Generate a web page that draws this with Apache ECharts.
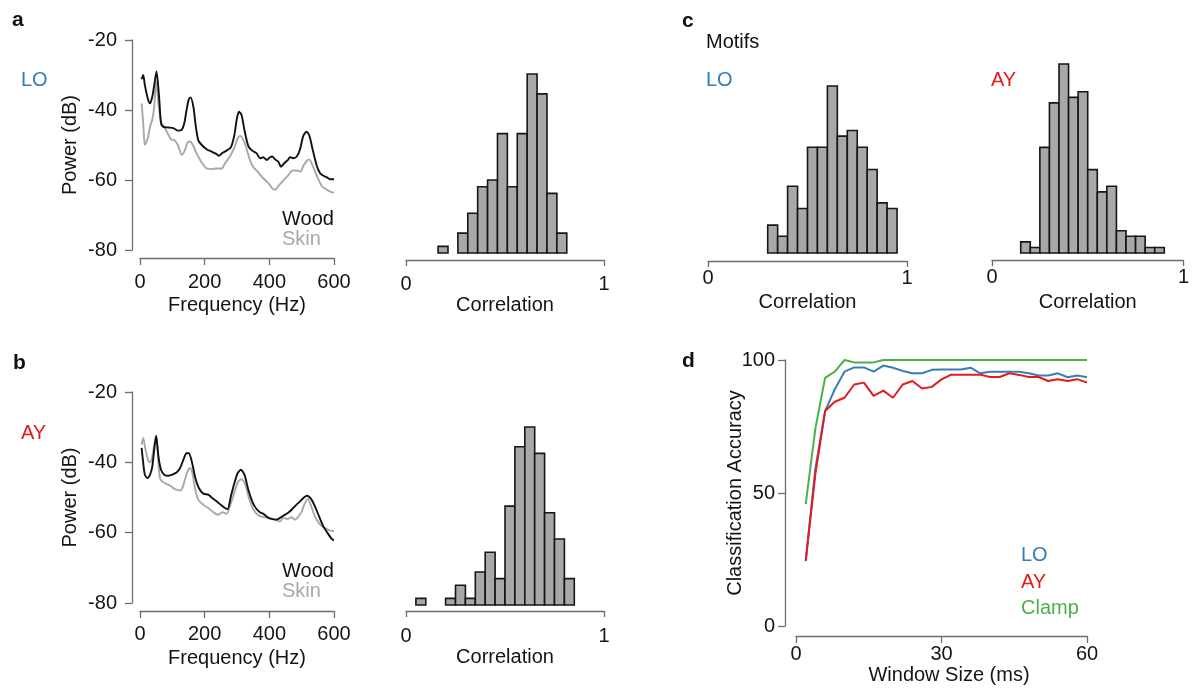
<!DOCTYPE html>
<html>
<head>
<meta charset="utf-8">
<script src="https://cdn.jsdelivr.net/npm/echarts@6/dist/echarts.min.js"></script>
<style>
  html, body { margin: 0; padding: 0; background: #ffffff; }
  #chart { width: 1192px; height: 689px; }
</style>
</head>
<body>
<div id="chart"></div>
<script>
// ---- Power spectra: [frequency (Hz), power (dB)] ----
const woodLO = [[5,-31.2],[10,-30.0],[15,-32.9],[24,-36.7],[31,-38.1],[38,-36.2],[44,-32.9],[51,-29.0],[59,-36.2],[65,-43.8],[72,-44.8],[88,-45.0],[103,-45.2],[118,-45.9],[129,-45.7],[137,-43.8],[144,-40.0],[151,-36.9],[156,-36.4],[165,-39.0],[172,-44.3],[180,-48.6],[191,-50.0],[206,-51.2],[222,-51.9],[237,-52.6],[244,-53.1],[253,-52.4],[268,-51.6],[281,-50.7],[292,-47.1],[299,-42.8],[306,-40.5],[314,-41.4],[323,-45.7],[335,-50.3],[347,-51.6],[361,-52.4],[371,-53.8],[381,-53.5],[392,-54.3],[402,-53.5],[409,-53.3],[418,-54.1],[428,-54.8],[436,-56.2],[446,-55.2],[457,-54.3],[464,-53.5],[474,-53.8],[485,-53.3],[495,-51.2],[505,-47.4],[515,-46.2],[524,-47.4],[533,-50.9],[546,-55.7],[557,-58.1],[567,-58.8],[577,-59.2],[588,-59.8],[600,-59.8]];
const skinLO = [[5,-38.1],[10,-43.8],[15,-50.0],[24,-48.1],[31,-44.8],[38,-42.7],[44,-39.0],[50,-31.8],[57,-38.1],[65,-43.3],[75,-44.8],[88,-47.1],[96,-48.4],[106,-48.6],[117,-50.0],[129,-52.8],[137,-51.9],[147,-49.3],[155,-49.0],[165,-50.3],[175,-52.4],[186,-54.3],[196,-55.7],[206,-56.7],[222,-56.9],[237,-56.7],[253,-56.7],[263,-55.2],[278,-53.3],[292,-50.7],[302,-48.1],[310,-47.4],[320,-48.6],[330,-51.2],[340,-54.3],[351,-56.4],[364,-57.6],[376,-59.0],[389,-60.2],[399,-61.1],[409,-62.4],[418,-62.8],[428,-61.7],[443,-60.2],[459,-58.6],[471,-57.3],[485,-57.3],[497,-57.6],[505,-56.0],[516,-54.5],[523,-54.1],[533,-55.7],[546,-58.6],[562,-61.7],[577,-62.7],[588,-63.3],[600,-63.6]];
const woodAY = [[5,-35.9],[10,-40.2],[15,-43.5],[23,-44.5],[31,-43.5],[38,-41.2],[44,-36.4],[50,-32.4],[57,-38.3],[65,-42.1],[75,-43.5],[88,-43.8],[100,-43.5],[113,-42.9],[124,-41.6],[134,-39.3],[144,-37.4],[151,-37.4],[160,-39.7],[170,-44.0],[182,-47.3],[196,-48.9],[211,-49.2],[224,-50.2],[237,-51.1],[250,-52.1],[263,-53.0],[271,-53.3],[281,-49.7],[292,-45.9],[302,-43.1],[312,-42.1],[323,-43.5],[335,-47.8],[347,-51.1],[358,-53.0],[371,-54.2],[381,-54.6],[395,-55.6],[407,-56.1],[423,-56.3],[433,-55.8],[443,-55.2],[457,-54.4],[469,-53.5],[481,-52.3],[495,-51.1],[508,-49.9],[517,-49.5],[529,-50.4],[541,-52.5],[554,-55.4],[567,-58.2],[580,-60.1],[593,-61.8],[600,-62.2]];
const skinAY = [[5,-35.0],[10,-33.1],[17,-36.4],[26,-39.7],[32,-40.0],[38,-38.3],[44,-35.0],[50,-32.4],[57,-40.2],[62,-44.5],[72,-45.7],[82,-46.1],[96,-46.8],[108,-47.6],[124,-48.0],[131,-47.3],[139,-44.9],[147,-42.6],[155,-41.6],[162,-43.0],[170,-47.3],[180,-50.6],[196,-52.1],[211,-53.0],[227,-54.2],[242,-54.9],[255,-54.2],[268,-54.6],[278,-52.5],[292,-48.5],[304,-45.4],[314,-44.8],[325,-46.1],[337,-50.2],[351,-53.5],[364,-54.9],[376,-55.4],[392,-55.8],[407,-56.1],[423,-56.5],[433,-56.8],[443,-55.8],[457,-56.1],[469,-55.6],[479,-56.3],[490,-55.4],[500,-54.0],[510,-51.6],[519,-50.4],[529,-52.3],[541,-55.4],[557,-57.7],[572,-58.7],[588,-59.4],[600,-59.6]];

// ---- Correlation histograms: first bin edge, bin width, counts per bin ----
const binWidth = 0.05;
const histLOStart = 0.162;
const histLOCounts = [1, 0, 3, 6, 10, 11, 18, 10, 18, 27, 24, 9, 3];
const histAYStart = 0.05;
const histAYCounts = [1, 0, 0, 1, 3, 1, 5, 8, 4, 15, 24, 27, 23, 14, 10, 4];
const motifLOStart = 0.30;
const motifLOCounts = [5, 3, 12, 8, 19, 19, 30, 21, 22, 19, 15, 9, 8];
const motifAYStart = 0.15;
const motifAYCounts = [2, 1, 19, 27, 34, 28, 29, 15, 11, 12, 4, 3, 3, 1, 1];

// ---- Classification accuracy (%) vs window size (ms) ----
const windowMs = [2,4,6,8,10,12,14,16,18,20,22,24,26,28,30,32,34,36,38,40,42,44,46,48,50,52,54,56,58,60];
const accLO = [24.5,59.2,80.8,89.0,95.6,97.2,97.2,95.6,97.9,97.1,95.9,95.0,95.0,96.3,96.4,96.4,96.4,97.1,95.0,95.6,95.6,95.6,95.6,95.0,94.2,94.2,95.0,93.5,94.2,93.5];
const accAY = [24.5,57.3,80.8,84.3,85.8,90.8,91.5,86.5,88.5,85.8,90.8,92.1,89.3,89.9,92.7,94.5,94.5,94.5,94.5,93.6,93.6,95.0,94.4,93.6,93.6,92.1,92.8,92.1,92.8,91.5];
const accClamp = [45.8,74.3,93.3,95.6,100,99.1,99.1,99.1,100,100,100,100,100,100,100,100,100,100,100,100,100,100,100,100,100,100,100,100,100,100];

// ---- styling ----
const FONT = '"Liberation Sans", Arial, Helvetica, sans-serif';
const axisGrey = '#6e6e6e';
const textCol = '#141414';
const colLO = '#377eb8', colAY = '#e41a1c', colClamp = '#4daf4a';

function binsOf(start, counts) {
  const out = [];
  counts.forEach((c, i) => {
    if (c > 0) out.push([start + i * binWidth, start + (i + 1) * binWidth, c]);
  });
  return out;
}

function renderBar(params, api) {
  const p0 = api.coord([api.value(0), 0]);
  const p1 = api.coord([api.value(1), api.value(2)]);
  return {
    type: 'rect',
    shape: { x: p0[0], y: p1[1], width: p1[0] - p0[0], height: p0[1] - p1[1] },
    style: { fill: '#a8a8a8', stroke: '#161616', lineWidth: 1.6 }
  };
}

function lineAxis(o) {
  return Object.assign({
    type: 'value',
    axisLine: { show: true, onZero: false, lineStyle: { color: axisGrey, width: 1.3 } },
    axisTick: { show: true, length: 7, lineStyle: { color: axisGrey, width: 1.3 } },
    axisLabel: { fontSize: 20, fontFamily: FONT, color: textCol },
    splitLine: { show: false },
    nameLocation: 'middle',
    nameMoveOverlap: false,
    nameTextStyle: { fontSize: 20, fontFamily: FONT, color: textCol }
  }, o);
}

function hiddenY(grid, max) {
  return { type: 'value', gridIndex: grid, min: 0, max: max, show: false, splitLine: { show: false } };
}

const grids = [
  { left: 140, top: 40, width: 194, height: 210 },      // a spectra
  { left: 406, top: 74, width: 198, height: 179 },      // a histogram
  { left: 140, top: 392, width: 194, height: 211 },     // b spectra
  { left: 406, top: 427, width: 198, height: 178 },     // b histogram
  { left: 708, top: 86, width: 199, height: 167 },      // c LO motifs
  { left: 992, top: 64, width: 198, height: 189 },      // c AY motifs
  { left: 796, top: 360, width: 291, height: 266 }      // d accuracy
];

const xAxes = [
  lineAxis({ gridIndex: 0, min: 0, max: 600, interval: 200, offset: 8, axisLabel: { margin: 14, fontSize: 20, fontFamily: FONT, color: textCol }, name: 'Frequency (Hz)', nameGap: 37 }),
  lineAxis({ gridIndex: 1, min: 0, max: 1, interval: 1, offset: 7, axisTick: { show: true, length: 6, lineStyle: { color: axisGrey, width: 1.3 } }, axisLabel: { margin: 14, fontSize: 20, fontFamily: FONT, color: textCol }, name: 'Correlation', nameGap: 35 }),
  lineAxis({ gridIndex: 2, min: 0, max: 600, interval: 200, offset: 8, axisLabel: { margin: 13, fontSize: 20, fontFamily: FONT, color: textCol }, name: 'Frequency (Hz)', nameGap: 37 }),
  lineAxis({ gridIndex: 3, min: 0, max: 1, interval: 1, offset: 6, axisTick: { show: true, length: 6, lineStyle: { color: axisGrey, width: 1.3 } }, axisLabel: { margin: 15, fontSize: 20, fontFamily: FONT, color: textCol }, name: 'Correlation', nameGap: 36 }),
  lineAxis({ gridIndex: 4, min: 0, max: 1, interval: 1, offset: 8, axisTick: { show: true, length: 6, lineStyle: { color: axisGrey, width: 1.3 } }, axisLabel: { margin: 7, fontSize: 20, fontFamily: FONT, color: textCol }, name: 'Correlation', nameGap: 31 }),
  lineAxis({ gridIndex: 5, min: 0, max: 1, interval: 1, offset: 7, axisTick: { show: true, length: 6, lineStyle: { color: axisGrey, width: 1.3 } }, axisLabel: { margin: 7, fontSize: 20, fontFamily: FONT, color: textCol }, name: 'Correlation', nameGap: 32 }),
  lineAxis({ gridIndex: 6, min: 0, max: 60, interval: 30, offset: 10, axisLabel: { margin: 8, fontSize: 20, fontFamily: FONT, color: textCol }, name: 'Window Size (ms)', nameGap: 29, nameTextStyle: { fontSize: 20, fontFamily: FONT, color: textCol, padding: [0, 0, 0, 15] } })
];

const yAxes = [
  lineAxis({ gridIndex: 0, min: -80, max: -20, interval: 20, offset: 8, axisLabel: { margin: 15, fontSize: 20, fontFamily: FONT, color: textCol }, name: 'Power (dB)', nameGap: 52 }),
  hiddenY(1, 27),
  lineAxis({ gridIndex: 2, min: -80, max: -20, interval: 20, offset: 8, axisLabel: { margin: 15, fontSize: 20, fontFamily: FONT, color: textCol }, name: 'Power (dB)', nameGap: 52 }),
  hiddenY(3, 27),
  hiddenY(4, 30),
  hiddenY(5, 34),
  lineAxis({ gridIndex: 6, min: 0, max: 100, interval: 50, offset: 11, axisLabel: { margin: 10, fontSize: 20, fontFamily: FONT, color: textCol }, name: 'Classification Accuracy', nameGap: 40 })
];

function specLine(data, grid, color) {
  return { type: 'line', xAxisIndex: grid, yAxisIndex: grid, data: data, showSymbol: false, smooth: 0.25,
           lineStyle: { color: color, width: 1.9 }, itemStyle: { color: color } };
}
function histSeries(start, counts, grid) {
  return { type: 'custom', xAxisIndex: grid, yAxisIndex: grid, renderItem: renderBar,
           encode: { x: [0, 1], y: 2 }, data: binsOf(start, counts) };
}
function accLine(vals, color) {
  return { type: 'line', xAxisIndex: 6, yAxisIndex: 6, data: windowMs.map((w, i) => [w, vals[i]]),
           showSymbol: false, lineStyle: { color: color, width: 2 }, itemStyle: { color: color } };
}

function label(text, x, y, color, extra) {
  return { type: 'text', x: x, y: y, silent: true,
           style: Object.assign({ text: text, fill: color || textCol, font: '20px ' + FONT,
                                  align: 'left', verticalAlign: 'middle' }, extra || {}) };
}
function panelLetter(text, x, y) {
  return label(text, x, y, '#111', { font: 'bold 21px ' + FONT });
}

const option = {
  animation: false,
  backgroundColor: '#ffffff',
  textStyle: { fontFamily: FONT },
  grid: grids,
  xAxis: xAxes,
  yAxis: yAxes,
  series: [
    specLine(skinLO, 0, '#a8a8a8'),
    specLine(woodLO, 0, '#111111'),
    histSeries(histLOStart, histLOCounts, 1),
    specLine(skinAY, 2, '#a8a8a8'),
    specLine(woodAY, 2, '#111111'),
    histSeries(histAYStart, histAYCounts, 3),
    histSeries(motifLOStart, motifLOCounts, 4),
    histSeries(motifAYStart, motifAYCounts, 5),
    accLine(accClamp, colClamp),
    accLine(accLO, colLO),
    accLine(accAY, colAY)
  ],
  graphic: [
    panelLetter('a', 12, 20),
    panelLetter('b', 13, 363),
    panelLetter('c', 682, 21),
    panelLetter('d', 682, 361),
    label('LO', 21, 80, colLO),
    label('AY', 21, 433, colAY),
    label('Wood', 282, 219, '#111'),
    label('Skin', 282, 239, '#a8a8a8'),
    label('Wood', 282, 571, '#111'),
    label('Skin', 282, 591, '#a8a8a8'),
    label('Motifs', 706, 42, '#111'),
    label('LO', 706, 80, colLO),
    label('AY', 991, 80, colAY),
    label('LO', 1021, 555, colLO),
    label('AY', 1021, 582, colAY),
    label('Clamp', 1021, 608, colClamp)
  ]
};

const chart = echarts.init(document.getElementById('chart'), null, { renderer: 'canvas' });
chart.setOption(option);
</script>
</body>
</html>
